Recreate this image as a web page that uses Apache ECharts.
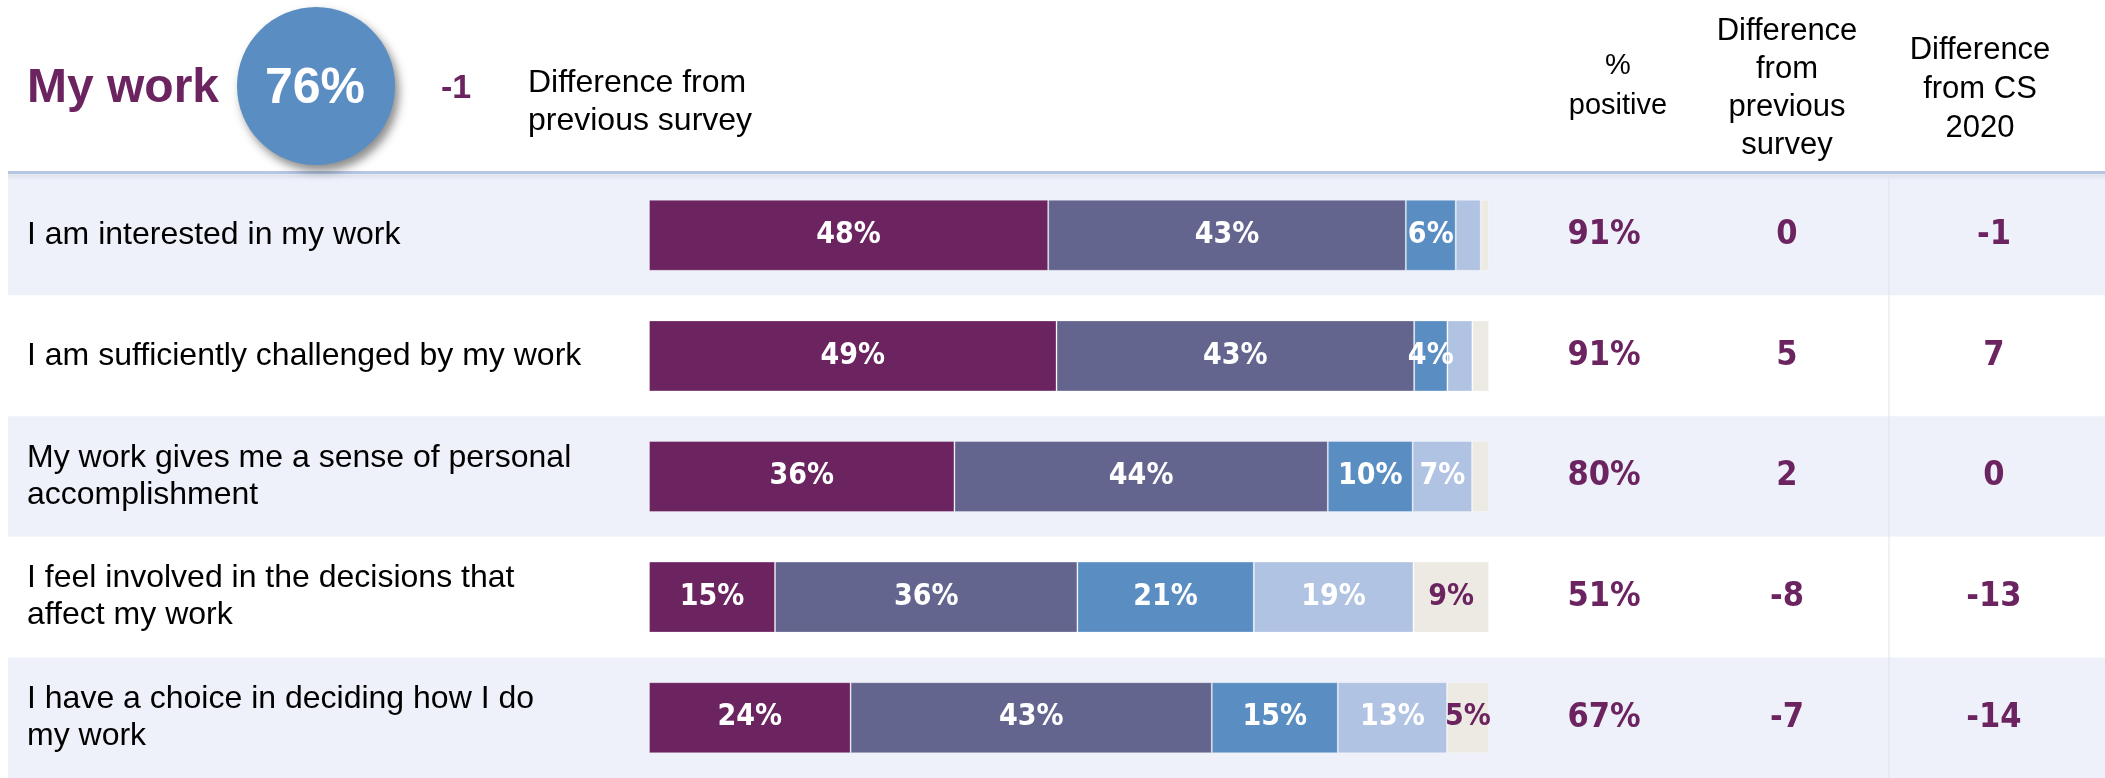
<!DOCTYPE html>
<html>
<head>
<meta charset="utf-8">
<script src="https://cdn.jsdelivr.net/npm/echarts@6/dist/echarts.min.js"></script>
<style>
html,body{margin:0;padding:0;background:#fff;}
#chart{width:2105px;height:778px;}
</style>
</head>
<body>
<div id="chart"></div>
<script>
// ---- data ----
var questions = [
  'I am interested in my work',
  'I am sufficiently challenged by my work',
  'My work gives me a sense of personal\naccomplishment',
  'I feel involved in the decisions that\naffect my work',
  'I have a choice in deciding how I do\nmy work'
];
var responseNames = ['Strongly agree', 'Agree', 'Neither', 'Disagree', 'Strongly disagree'];
var stronglyAgree    = [48, 49, 36, 15, 24];
var agree            = [43, 43, 44, 36, 43];
var neither          = [6, 4, 10, 21, 15];
var disagree         = [3, 3, 7, 19, 13];
var stronglyDisagree = [1, 2, 2, 9, 5];
var pctPositive = [91, 91, 80, 51, 67];
var diffPrevious = [0, 5, 2, -8, -7];
var diffCS2020 = [-1, 7, 0, -13, -14];
var themeName = 'My work';
var themeScore = 76;
var themeDiff = -1;

// ---- build ----
var PURPLE = '#6B2460';
var colors = ['#6B2460', '#63658F', '#5A8EC2', '#B1C3E2', '#EDEAE3'];
var labelColors = ['#fff', '#fff', '#fff', '#fff', PURPLE];
var seriesVals = [stronglyAgree, agree, neither, disagree, stronglyDisagree];
var rowSums = questions.map(function (q, i) {
  return seriesVals.reduce(function (s, arr) { return s + arr[i]; }, 0);
});
var narrow = '"Liberation Sans Narrow", "DejaVu Sans Condensed", "Liberation Sans", sans-serif';
var sans = '"Liberation Sans", Arial, sans-serif';

var gridTop = 175, gridH = 603;

var barSeries = seriesVals.map(function (vals, k) {
  return {
    name: responseNames[k],
    type: 'bar',
    stack: 'total',
    xAxisIndex: 1,
    yAxisIndex: 1,
    barWidth: 71,
    data: vals.map(function (v, i) { return v / rowSums[i] * 100; }),
    itemStyle: { color: colors[k], borderColor: 'rgba(255,255,255,0.3)', borderWidth: 1 },
    label: {
      show: true,
      position: 'inside',
      color: labelColors[k],
      fontFamily: narrow,
      fontWeight: 'bold',
      fontSize: 30,
      formatter: function (p) {
        var v = vals[p.dataIndex];
        return v >= 4 ? v + '%' : '';
      }
    }
  };
});

function fmtSigned(v) { return String(v); }

var valueAxisLabel = {
  fontFamily: narrow, fontWeight: 'bold', fontSize: 34, color: PURPLE,
  align: 'center', margin: 0, padding: [4, 0, 0, 0]
};

var option = {
  animation: false,
  backgroundColor: '#fff',
  grid: [
    { left: 8, right: 0, top: gridTop, height: gridH },
    { left: 649, width: 840, top: gridTop, height: gridH }
  ],
  xAxis: [
    { gridIndex: 0, type: 'value', min: 0, max: 1, show: false },
    { gridIndex: 1, type: 'value', min: 0, max: 100, show: false }
  ],
  yAxis: [
    {
      gridIndex: 0, type: 'category', data: questions, inverse: true,
      axisLine: { show: false }, axisTick: { show: false }, axisLabel: { show: false },
      splitLine: { show: false },
      splitArea: { show: true, areaStyle: { color: ['#EEF1F9', '#FFFFFF'] } }
    },
    {
      gridIndex: 1, type: 'category', data: questions, inverse: true,
      axisLine: { show: false }, axisTick: { show: false },
      axisLabel: {
        align: 'left', margin: 622, fontFamily: sans, fontSize: 32,
        lineHeight: 37, color: '#000', padding: [4, 0, 0, 0]
      }
    },
    {
      gridIndex: 1, type: 'category', inverse: true, position: 'right', offset: 115,
      data: pctPositive.map(function (v) { return v + '%'; }),
      axisLine: { show: false }, axisTick: { show: false }, axisLabel: valueAxisLabel
    },
    {
      gridIndex: 1, type: 'category', inverse: true, position: 'right', offset: 298,
      data: diffPrevious.map(fmtSigned),
      axisLine: { show: false }, axisTick: { show: false }, axisLabel: valueAxisLabel
    },
    {
      gridIndex: 1, type: 'category', inverse: true, position: 'right', offset: 505,
      data: diffCS2020.map(fmtSigned),
      axisLine: { show: false }, axisTick: { show: false }, axisLabel: valueAxisLabel
    }
  ],
  series: barSeries.concat([
    { type: 'scatter', xAxisIndex: 0, yAxisIndex: 0, data: [], silent: true }
  ]),
  graphic: [
    // header rule
    { type: 'rect', shape: { x: 8, y: 174, width: 2097, height: 6 }, z: 1,
      style: { fill: new echarts.graphic.LinearGradient(0, 0, 0, 1, [
        { offset: 0, color: 'rgba(150,160,180,0.25)' }, { offset: 1, color: 'rgba(150,160,180,0)' }]) } },
    { type: 'rect', shape: { x: 8, y: 171, width: 2097, height: 3 }, z: 2,
      style: { fill: '#B4C6E4' } },
    // column separator
    { type: 'line', shape: { x1: 1889, y1: 175, x2: 1889, y2: 778 }, z: 1,
      style: { stroke: '#DDE2EC', lineWidth: 1 } },
    // theme score circle
    { type: 'circle', shape: { cx: 316, cy: 86, r: 79 }, z: 3,
      style: { fill: '#5A8EC2', shadowBlur: 10, shadowOffsetX: 4, shadowOffsetY: 6,
               shadowColor: 'rgba(0,0,0,0.45)' } },
    { type: 'text', x: 315, y: 89, z: 4,
      style: { text: themeScore + '%', fill: '#fff', font: 'bold 50px ' + sans,
               textAlign: 'center', textVerticalAlign: 'middle' } },
    { type: 'text', x: 27, y: 89, z: 4,
      style: { text: themeName, fill: PURPLE, font: 'bold 48px ' + sans,
               textAlign: 'left', textVerticalAlign: 'middle' } },
    { type: 'text', x: 456, y: 89, z: 4,
      style: { text: String(themeDiff), fill: PURPLE, font: 'bold 34px ' + sans,
               textAlign: 'center', textVerticalAlign: 'middle' } },
    { type: 'text', x: 528, y: 102, z: 4,
      style: { text: 'Difference from\nprevious survey', fill: '#000', font: '32px ' + sans,
               lineHeight: 38, textAlign: 'left', textVerticalAlign: 'middle' } },
    // column headers
    { type: 'text', x: 1618, y: 86, z: 4,
      style: { text: '%\npositive', fill: '#000', font: '29px ' + sans,
               lineHeight: 40, textAlign: 'center', textVerticalAlign: 'middle' } },
    { type: 'text', x: 1787, y: 88, z: 4,
      style: { text: 'Difference\nfrom\nprevious\nsurvey', fill: '#000', font: '31px ' + sans,
               lineHeight: 38, textAlign: 'center', textVerticalAlign: 'middle' } },
    { type: 'text', x: 1980, y: 89, z: 4,
      style: { text: 'Difference\nfrom CS\n2020', fill: '#000', font: '31px ' + sans,
               lineHeight: 39, textAlign: 'center', textVerticalAlign: 'middle' } }
  ]
};

var chart = echarts.init(document.getElementById('chart'), null, { renderer: 'canvas' });
chart.setOption(option);
</script>
</body>
</html>
